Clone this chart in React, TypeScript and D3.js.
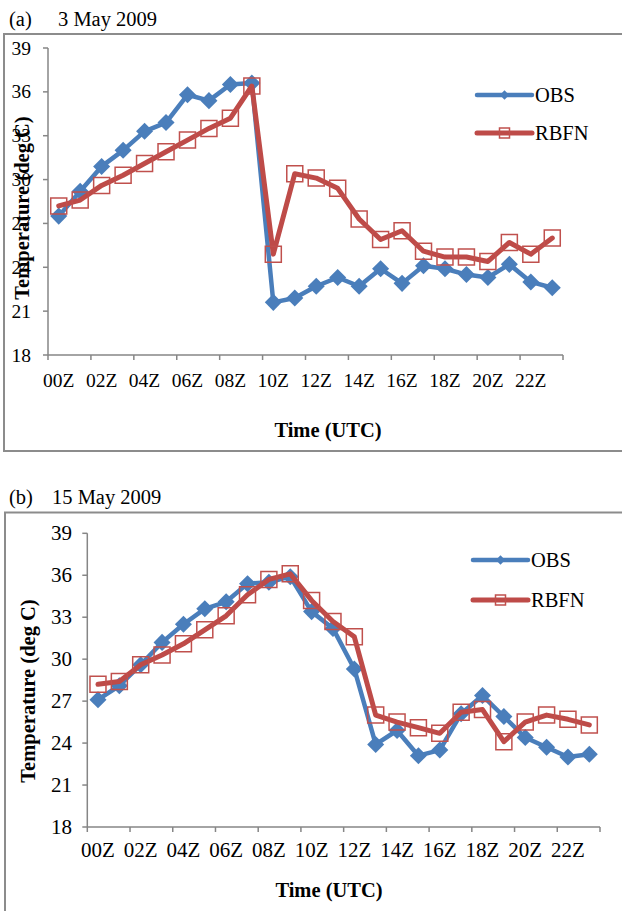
import React from 'react';
import * as d3 from 'd3';

// hourly categories
const hourLabels = [
  '00Z', '01Z', '02Z', '03Z', '04Z', '05Z', '06Z', '07Z', '08Z', '09Z', '10Z', '11Z',
  '12Z', '13Z', '14Z', '15Z', '16Z', '17Z', '18Z', '19Z', '20Z', '21Z', '22Z', '23Z',
];
const yTicks = [18, 21, 24, 27, 30, 33, 36, 39];
const seriesNames = ['OBS', 'RBFN'];

// (a) 3 May 2009
const obsMay3 = [27.5, 29.2, 30.9, 32.0, 33.3, 33.9, 35.8, 35.4, 36.5, 36.6, 21.6, 21.9,
  22.7, 23.3, 22.7, 23.9, 22.9, 24.1, 23.9, 23.5, 23.3, 24.2, 23.0, 22.6];
const rbfnMay3 = [28.2, 28.6, 29.6, 30.3, 31.1, 31.9, 32.7, 33.5, 34.2, 36.4, 24.9, 30.4,
  30.1, 29.4, 27.3, 25.9, 26.5, 25.1, 24.7, 24.7, 24.4, 25.7, 24.9, 26.0];

// (b) 15 May 2009
const obsMay15 = [27.1, 28.1, 29.6, 31.2, 32.5, 33.6, 34.1, 35.4, 35.5, 35.9, 33.4, 32.2,
  29.3, 23.9, 24.9, 23.1, 23.5, 26.1, 27.4, 25.9, 24.4, 23.7, 23.0, 23.2];
const rbfnMay15 = [28.2, 28.4, 29.6, 30.3, 31.1, 32.1, 33.1, 34.6, 35.7, 36.1, 34.2, 32.7,
  31.6, 26.0, 25.5, 25.1, 24.7, 26.2, 26.4, 24.1, 25.5, 26.0, 25.7, 25.3];

const BLUE = '#4A7EBB';
const RED = '#BE4B48';
const AXIS = '#868686';
const FRAME = '#8C8C8C';
const FONT = '"Liberation Serif", "Times New Roman", serif';

const diamond = d3.symbol(d3.symbolDiamond2, 185)();
const square = d3.symbol(d3.symbolSquare, 256)();
const diamondSmall = d3.symbol(d3.symbolDiamond2, 55)();
const squareSmall = d3.symbol(d3.symbolSquare, 100)();

type PanelProps = {
  tag: string;
  date: string;
  dateX: number;
  obs: number[];
  rbfn: number[];
  frameTop: number;
  frameLeft: number;
  frameBottom: number;
  titleY: number;
  x0: number;
  x1: number;
  yTop: number;
  yBottom: number;
  tickFont: number;
  yLabelEnd: number;
  xLabelY: number;
  xTitleX: number;
  xTitleY: number;
  yTitleX: number;
  yTitleY: number;
  legendX: number;
  legendY: number[];
};

const Panel = (p: PanelProps) => {
  const x = d3.scaleBand<string>().domain(hourLabels).range([p.x0, p.x1]).paddingInner(0).paddingOuter(0);
  const y = d3.scaleLinear().domain([18, 39]).range([p.yBottom, p.yTop]);
  const cx = (i: number) => (x(hourLabels[i]) as number) + x.bandwidth() / 2;

  const line = d3.line<number>().x((_, i) => cx(i)).y((d) => y(d));

  // tick marks between every second category, plus the closing one
  const tickXs = hourLabels.filter((_, i) => i % 2 === 0).map((h) => x(h) as number).concat([p.x1]);

  return (
    <g>
      {/* frame, open on the right */}
      <path
        d={`M622,${p.frameTop}H${p.frameLeft}V${p.frameBottom}H622`}
        fill="none"
        stroke={FRAME}
        strokeWidth={2}
      />
      <text x={9} y={p.titleY} fontFamily={FONT} fontSize={20.5}>{p.tag}</text>
      <text x={p.dateX} y={p.titleY} fontFamily={FONT} fontSize={20.5}>{p.date}</text>

      {/* y axis */}
      <line x1={p.x0} x2={p.x0} y1={p.yTop} y2={p.yBottom} stroke={AXIS} strokeWidth={1.5} />
      {yTicks.map((t) => (
        <g key={t}>
          <line x1={p.x0 - 5} x2={p.x0} y1={y(t)} y2={y(t)} stroke={AXIS} strokeWidth={1.5} />
          <text x={p.yLabelEnd} y={y(t)} dy="0.34em" textAnchor="end" fontFamily={FONT} fontSize={p.tickFont}>
            {t}
          </text>
        </g>
      ))}

      {/* x axis */}
      <line x1={p.x0} x2={p.x1} y1={p.yBottom} y2={p.yBottom} stroke={AXIS} strokeWidth={1.5} />
      {tickXs.map((tx, i) => (
        <line key={i} x1={tx} x2={tx} y1={p.yBottom} y2={p.yBottom + 5} stroke={AXIS} strokeWidth={1.5} />
      ))}
      {hourLabels.map((h, i) =>
        i % 2 === 0 ? (
          <text key={h} x={cx(i)} y={p.xLabelY} textAnchor="middle" fontFamily={FONT} fontSize={p.tickFont}>
            {h}
          </text>
        ) : null
      )}

      <text x={p.xTitleX} y={p.xTitleY} textAnchor="middle" fontFamily={FONT} fontSize={20.5} fontWeight="bold">
        Time (UTC)
      </text>
      <text
        transform={`translate(${p.yTitleX},${p.yTitleY}) rotate(-90)`}
        textAnchor="middle"
        fontFamily={FONT}
        fontSize={20.5}
        fontWeight="bold"
      >
        Temperature (deg C)
      </text>

      {/* OBS series */}
      <path d={line(p.obs) as string} fill="none" stroke={BLUE} strokeWidth={4.5} strokeLinejoin="round" strokeLinecap="round" />
      {p.obs.map((v, i) => (
        <path key={i} d={diamond as string} transform={`translate(${cx(i)},${y(v)})`} fill={BLUE} />
      ))}

      {/* RBFN series */}
      <path d={line(p.rbfn) as string} fill="none" stroke={RED} strokeWidth={5} strokeLinejoin="round" strokeLinecap="round" />
      {p.rbfn.map((v, i) => (
        <path key={i} d={square as string} transform={`translate(${cx(i)},${y(v)})`} fill="none" stroke="#C0504D" strokeWidth={1.5} />
      ))}

      {/* legend */}
      {seriesNames.map((name, k) => {
        const ly = p.legendY[k];
        const color = k === 0 ? BLUE : RED;
        return (
          <g key={name}>
            <line x1={p.legendX} x2={p.legendX + 55} y1={ly} y2={ly} stroke={color} strokeWidth={k === 0 ? 4.5 : 5} strokeLinecap="round" />
            {k === 0 ? (
              <path d={diamondSmall as string} transform={`translate(${p.legendX + 27.5},${ly})`} fill={BLUE} />
            ) : (
              <path d={squareSmall as string} transform={`translate(${p.legendX + 27.5},${ly})`} fill="none" stroke="#C0504D" strokeWidth={1.5} />
            )}
            <text x={p.legendX + 58} y={ly} dy="0.34em" fontFamily={FONT} fontSize={20.5}>
              {name}
            </text>
          </g>
        );
      })}
    </g>
  );
};

export default function App() {
  return (
    <svg width={622} height={911} style={{ position: 'absolute', left: 0, top: 0, background: '#fff' }}>
      <rect width={622} height={911} fill="#fff" />
      <Panel
        tag="(a)"
        date="3 May 2009"
        dateX={58}
        obs={obsMay3}
        rbfn={rbfnMay3}
        frameTop={34}
        frameLeft={4}
        frameBottom={451}
        titleY={26}
        x0={48}
        x1={563}
        yTop={48}
        yBottom={355}
        tickFont={19.5}
        yLabelEnd={31}
        xLabelY={387}
        xTitleX={328}
        xTitleY={437}
        yTitleX={29}
        yTitleY={208}
        legendX={477}
        legendY={[95, 133]}
      />
      <Panel
        tag="(b)"
        date="15 May 2009"
        dateX={52}
        obs={obsMay15}
        rbfn={rbfnMay15}
        frameTop={512.5}
        frameLeft={5}
        frameBottom={930}
        titleY={504}
        x0={87.3}
        x1={600}
        yTop={533.3}
        yBottom={827}
        tickFont={21}
        yLabelEnd={72}
        xLabelY={857}
        xTitleX={329}
        xTitleY={897}
        yTitleX={35}
        yTitleY={691}
        legendX={473}
        legendY={[560, 600]}
      />
    </svg>
  );
}
